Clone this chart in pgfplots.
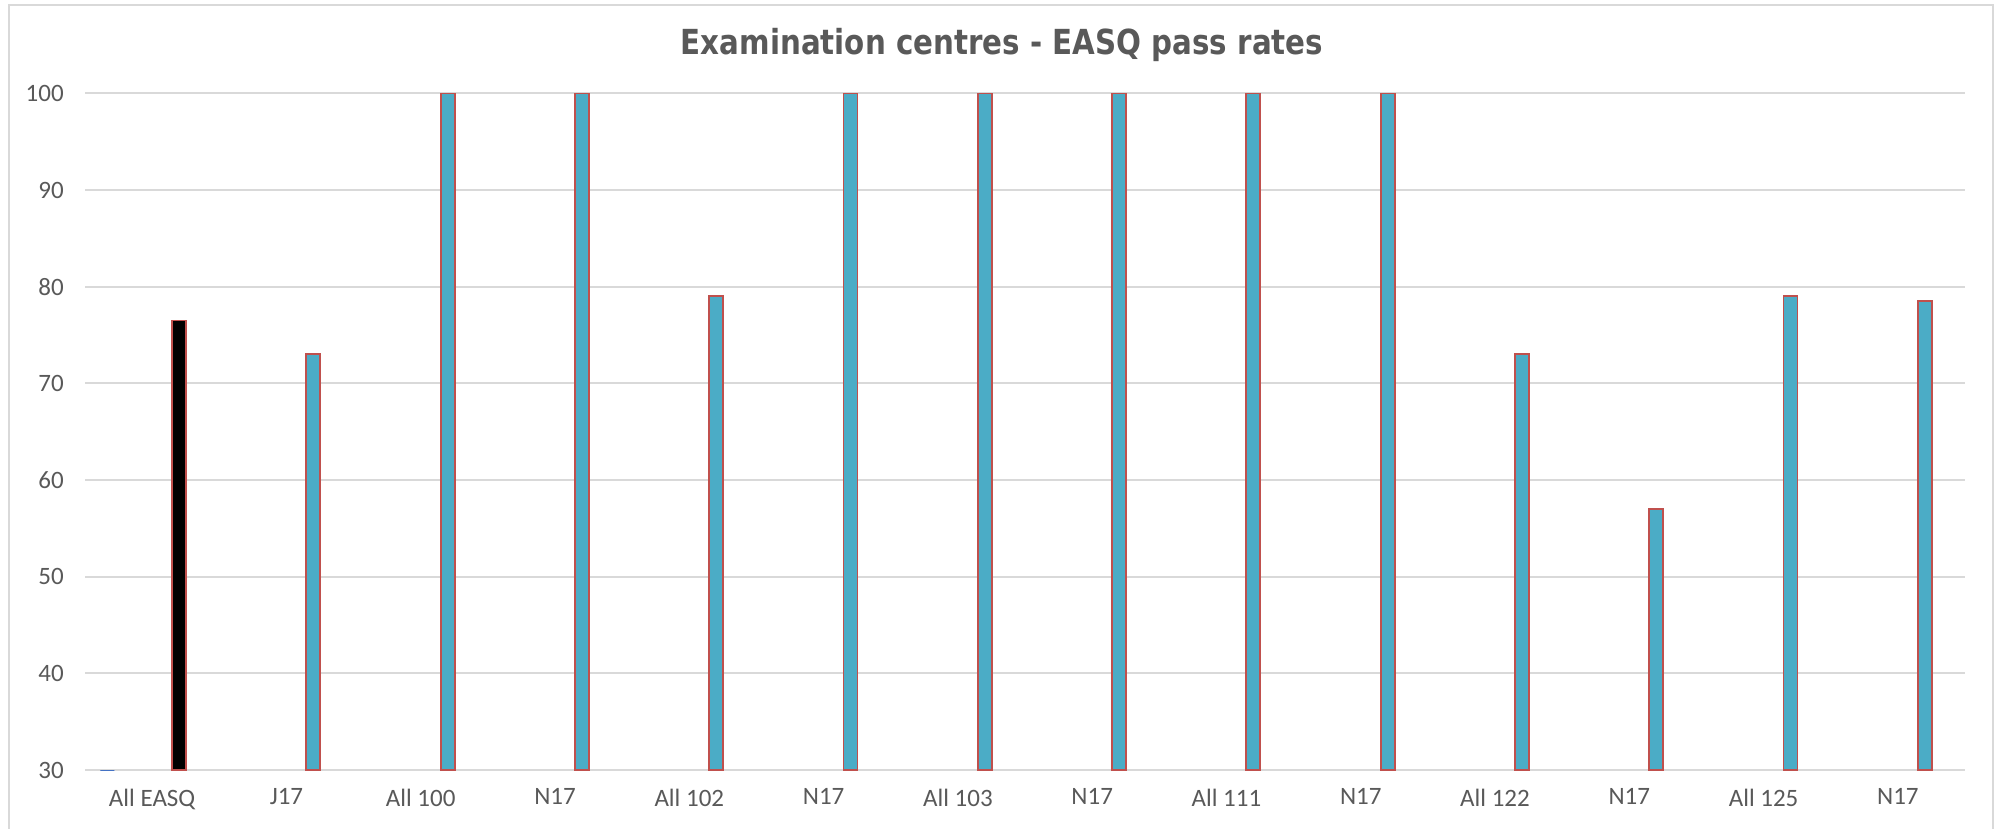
\documentclass[border=0pt]{standalone}
\usepackage{pgfplots}
\pgfplotsset{compat=1.18}
\usepackage{fontspec}
\setmainfont{Carlito}
\newfontfamily\titlefont{DejaVu Sans}[FakeStretch=0.85]

\definecolor{txt}{HTML}{595959}
\definecolor{gridc}{HTML}{D9D9D9}
\definecolor{barfill}{HTML}{4BACC6}
\definecolor{edge}{HTML}{C0504D}
\definecolor{dashc}{HTML}{4472C4}

\begin{document}
\begin{tikzpicture}[x=0.4pt, y=-0.4pt]
  \useasboundingbox (0,0) rectangle (1997,828);
  % chart frame
  \draw[gridc, line width=0.8pt] (9,840) -- (9,5) -- (1993,5) -- (1993,840);
  \node[font=\titlefont\bfseries\fontsize{13.8}{16}\selectfont, text=txt] at (1002,45)
    {Examination centres - EASQ pass rates};

  % plot area: 85..1965 px wide, 93.3..770 px high (0.4pt per px)
  \begin{axis}[
      at={(34pt,-37.32pt)}, anchor=north west,
      scale only axis,
      width=752pt, height=270.7pt,
      xmin=-0.5, xmax=13.5,
      ymin=30, ymax=100,
      ytick={30,40,...,100},
      xtick={0,...,13},
      xticklabels={All EASQ, J17, All 100, N17, All 102, N17, All 103, N17, All 111, N17, All 122, N17, All 125, N17},
      axis line style={draw=none},
      major tick length=0pt,
      ymajorgrids=true,
      grid style={gridc, line width=0.8pt},
      tick label style={text=txt, font=\fontsize{10}{12}\selectfont},
      yticklabel style={xshift=-5pt},
      xticklabel style={yshift=-4pt},
      /pgf/number format/assume math mode=true,
    ]
    % first series: only a value at or below the axis minimum
    \addplot[ybar, bar width=5.6pt, bar shift=-17.9pt, draw=dashc, fill=dashc]
      coordinates {(0,30)};
    % overall EASQ
    \addplot[ybar, bar width=5.6pt, bar shift=10.76pt, draw=edge, fill=black, line width=0.7pt]
      coordinates {(0,76.5)};
    % centres
    \addplot[ybar, bar width=5.6pt, bar shift=10.76pt, draw=edge, fill=barfill, line width=0.7pt]
      coordinates {(1,73) (2,100) (3,100) (4,79) (5,100) (6,100) (7,100)
                   (8,100) (9,100) (10,73) (11,57) (12,79) (13,78.5)};
  \end{axis}
\end{tikzpicture}
\end{document}
